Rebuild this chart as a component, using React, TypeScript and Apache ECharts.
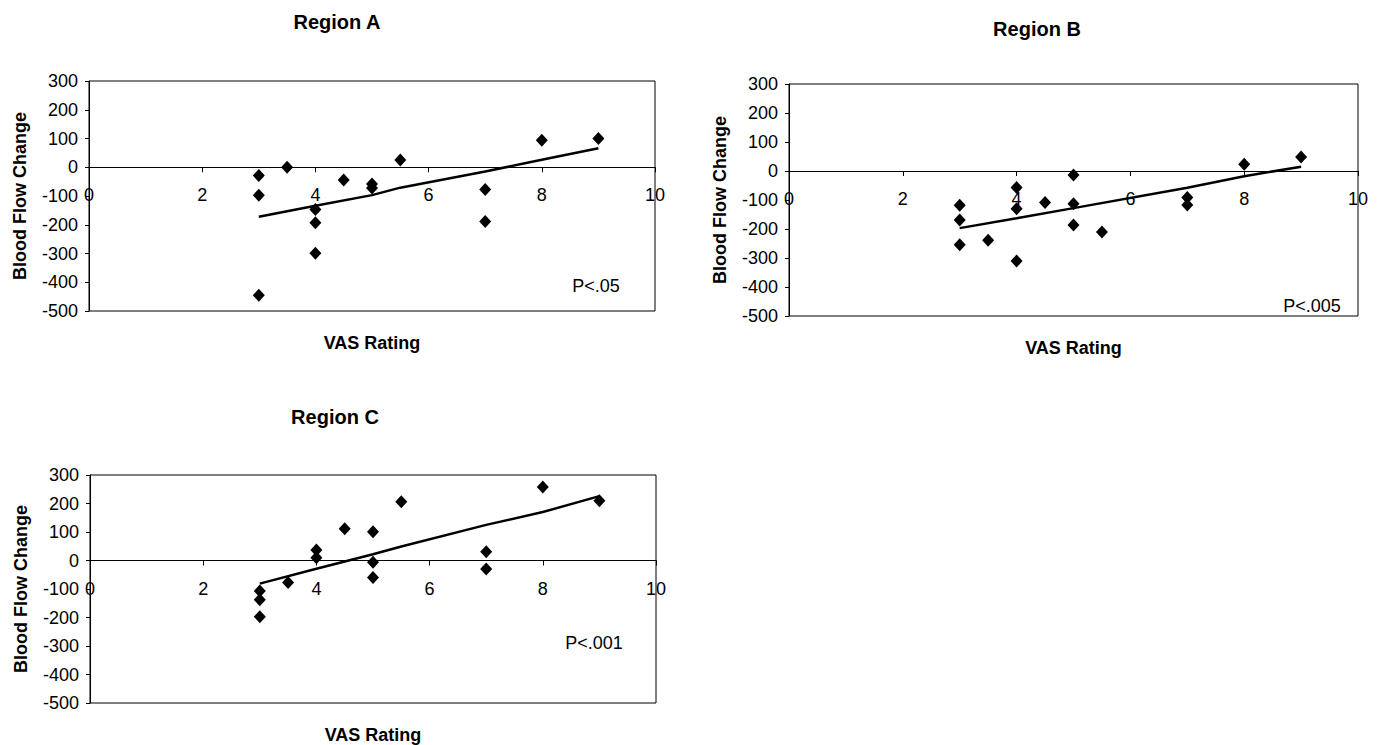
import React, { useEffect, useRef } from "react";
import * as echarts from "echarts";

// ---- Data ----
const titles = ["Region A", "Region B", "Region C"];
const pLabels = ["P<.05", "P<.005", "P<.001"];
const xTitle = "VAS Rating";
const yTitle = "Blood Flow Change";

const aX = [3, 3, 3, 3.5, 4, 4, 4, 4.5, 5, 5, 5.5, 7, 7, 8, 9];
const aY = [-29, -97, -445, 0, -147, -193, -299, -44, -58, -72, 25, -77, -189, 94, 100];
const aTrendX = [3, 4, 5, 5.5, 7, 8, 9];
const aTrendY = [-172, -134, -97, -71, -15, 26, 66];

const bX = [3, 3, 3, 3.5, 4, 4, 4, 4.5, 5, 5, 5, 5.5, 7, 7, 8, 9];
const bY = [-118, -169, -254, -239, -57, -130, -310, -109, -14, -113, -186, -210, -91, -117, 23, 48];
const bTrendX = [3, 4, 5, 7, 8, 9];
const bTrendY = [-197, -163, -128, -58, -18, 15];

const cX = [3, 3, 3, 3.5, 4, 4, 4.5, 5, 5, 5, 5.5, 7, 7, 8, 9];
const cY = [-107, -138, -197, -77, 37, 10, 111, 101, -6, -60, 206, 31, -30, 258, 210];
const cTrendX = [3, 4, 5, 5.5, 7, 8, 9];
const cTrendY = [-81, -29, 22, 49, 125, 170, 226];

const xMin = 0, xMax = 10, xStep = 2;
const yMin = -500, yMax = 300, yStep = 100;

const FONT = "'Liberation Sans', Arial, Helvetica, sans-serif";

const pairs = (xs: number[], ys: number[]) => xs.map((x, i) => [x, ys[i]]);

export default function App() {
  const ref = useRef<HTMLDivElement>(null);
  useEffect(() => {
    if (!ref.current) return;
    const chart = echarts.init(ref.current, null, { renderer: "svg" });

    const grids = [
      { left: 89, top: 81, width: 566, height: 230 },
      { left: 789, top: 84, width: 569, height: 232 },
      { left: 90, top: 475, width: 566, height: 228 },
    ];
    const pts = [pairs(aX, aY), pairs(bX, bY), pairs(cX, cY)];
    const trends = [pairs(aTrendX, aTrendY), pairs(bTrendX, bTrendY), pairs(cTrendX, cTrendY)];
    const titlePos = [[337, 22], [1037, 29], [335, 417]];
    const pPos = [[596, 286], [1312, 306], [594, 643]];

    const black = "#000";
    const graphic: any[] = [];
    grids.forEach((g, i) => {
      graphic.push({
        type: "text", x: titlePos[i][0], y: titlePos[i][1],
        style: { text: titles[i], font: `bold 20px ${FONT}`, fill: black, align: "center", verticalAlign: "middle" },
      });
      graphic.push({
        type: "text", x: g.left + g.width / 2, y: g.top + g.height + 32,
        style: { text: xTitle, font: `bold 18px ${FONT}`, fill: black, align: "center", verticalAlign: "middle" },
      });
      graphic.push({
        type: "text", x: g.left - 69, y: g.top + g.height / 2, rotation: Math.PI / 2,
        style: { text: yTitle, font: `bold 18px ${FONT}`, fill: black, align: "center", verticalAlign: "middle" },
      });
      graphic.push({
        type: "text", x: pPos[i][0], y: pPos[i][1],
        style: { text: pLabels[i], font: `18px ${FONT}`, fill: black, align: "center", verticalAlign: "middle" },
      });
    });

    // x axis sits on y = 0: shift it up from the bottom by the share of the range below zero
    const zeroShare = (0 - yMin) / (yMax - yMin);

    const option: any = {
      animation: false,
      backgroundColor: "#fff",
      grid: grids.map((g) => ({ ...g, show: true, borderColor: black, borderWidth: 1, backgroundColor: "transparent" })),
      xAxis: grids.map((g, i) => ({
        gridIndex: i, type: "value", min: xMin, max: xMax, interval: xStep,
        position: "bottom",
        offset: -g.height * zeroShare,
        axisLine: { show: true, onZero: false, lineStyle: { color: black, width: 1 } },
        axisTick: { show: true, length: 5, lineStyle: { color: black } },
        axisLabel: { color: black, fontSize: 18, fontFamily: FONT, margin: 19 },
        splitLine: { show: false },
      })),
      yAxis: grids.map((_, i) => ({
        gridIndex: i, type: "value", min: yMin, max: yMax, interval: yStep,
        axisLine: { show: true, onZero: false, lineStyle: { color: black, width: 1 } },
        axisTick: { show: true, length: 4, lineStyle: { color: black } },
        axisLabel: { color: black, fontSize: 18, fontFamily: FONT, margin: 11 },
        splitLine: { show: false },
      })),
      series: grids.flatMap((_, i) => [
        {
          type: "scatter", xAxisIndex: i, yAxisIndex: i, data: pts[i],
          symbol: "diamond", symbolSize: [12, 13], itemStyle: { color: black, opacity: 1 },
        },
        {
          type: "line", xAxisIndex: i, yAxisIndex: i, data: trends[i],
          showSymbol: false, symbol: "none", lineStyle: { color: black, width: 2.5 },
        },
      ]),
      graphic,
    };
    chart.setOption(option);
    return () => chart.dispose();
  }, []);

  return (
    <div
      ref={ref}
      style={{ position: "absolute", left: 0, top: 0, width: 1380, height: 745, background: "#fff" }}
    />
  );
}
